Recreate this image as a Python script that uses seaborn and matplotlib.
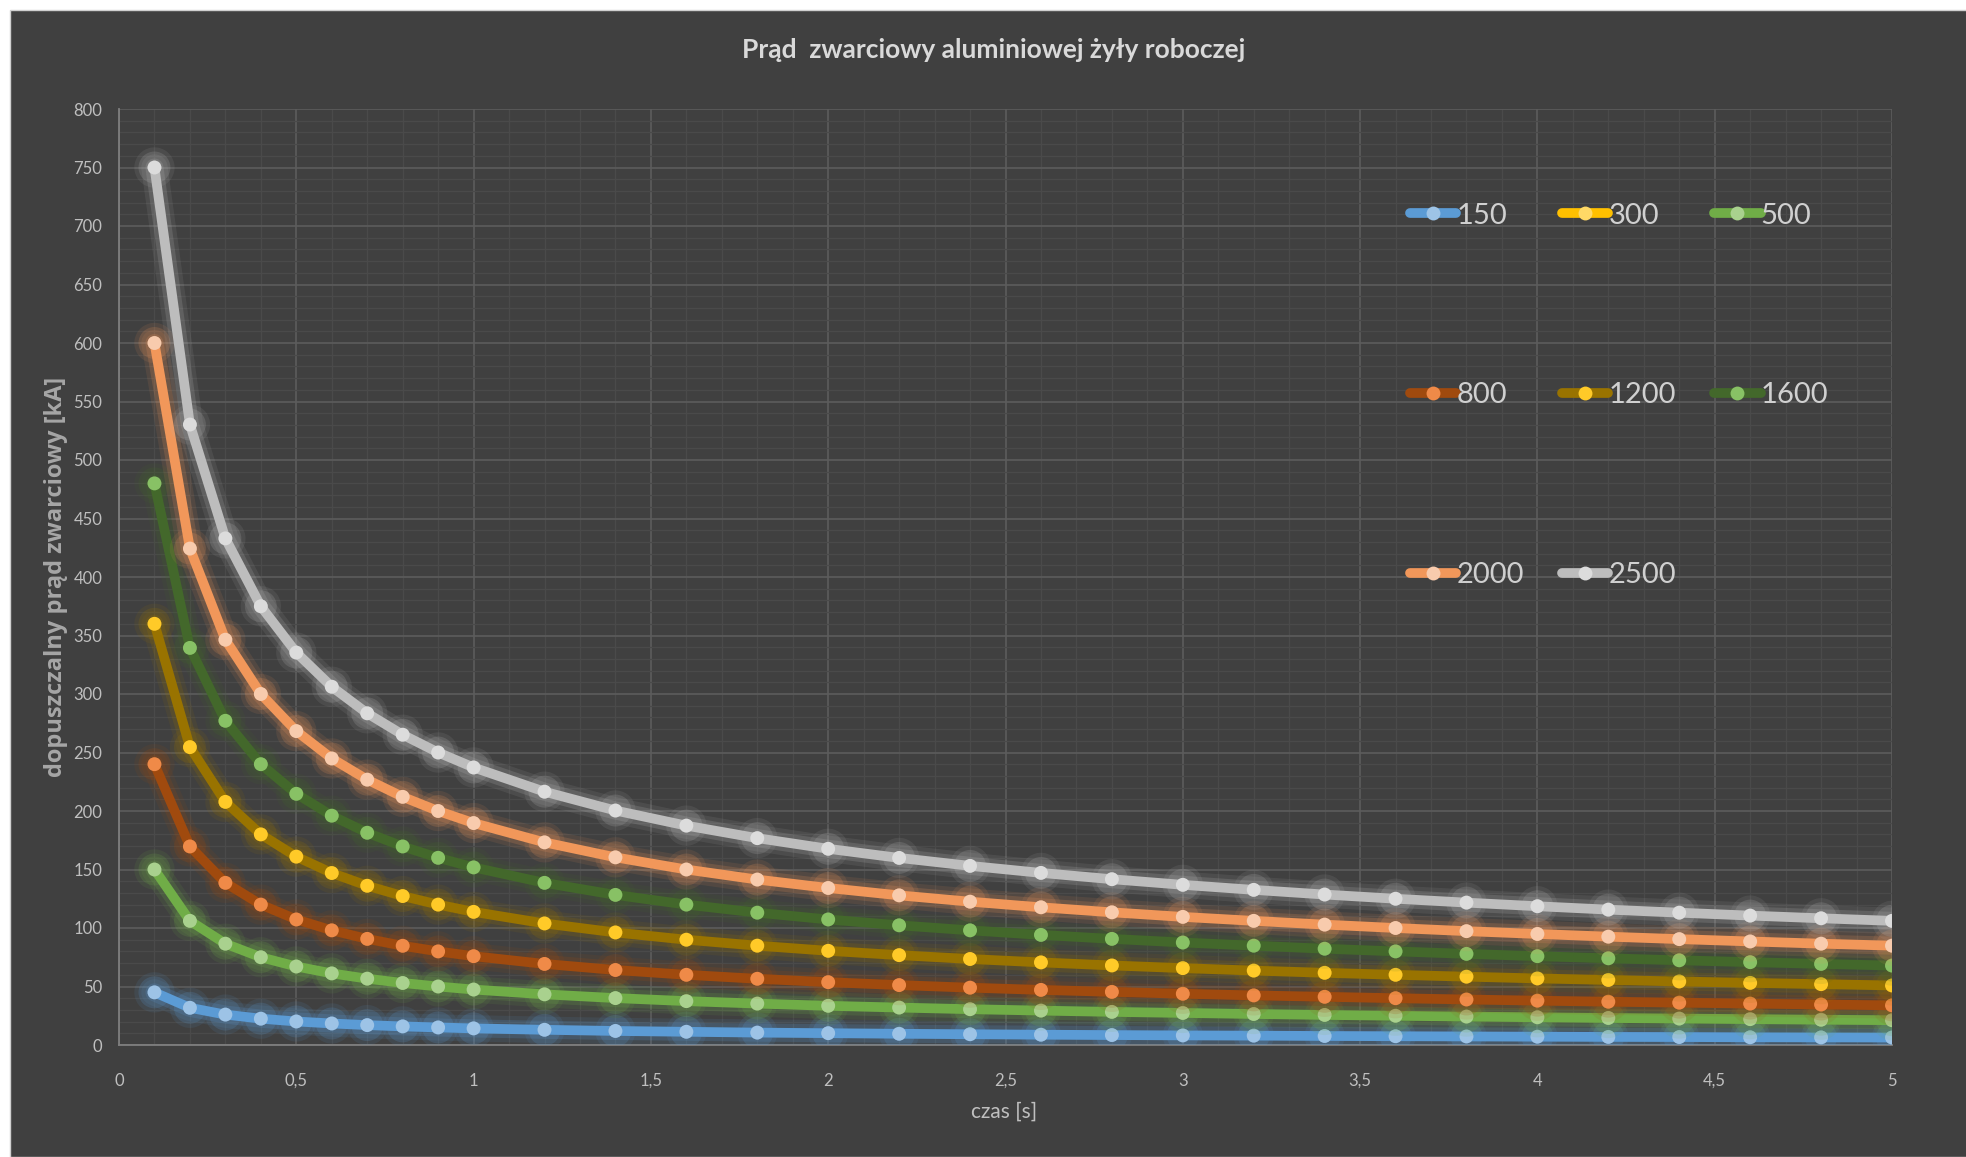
import matplotlib
matplotlib.use("Agg")
import matplotlib.pyplot as plt
import matplotlib.patheffects as pe
from matplotlib.patches import Rectangle
from matplotlib.ticker import MultipleLocator, FuncFormatter
import seaborn as sns
import pandas as pd

# time axis [s]
czas = [0.1, 0.2, 0.3, 0.4, 0.5, 0.6, 0.7, 0.8, 0.9, 1.0,
        1.2, 1.4, 1.6, 1.8, 2.0, 2.2, 2.4, 2.6, 2.8, 3.0,
        3.2, 3.4, 3.6, 3.8, 4.0, 4.2, 4.4, 4.6, 4.8, 5.0]

# permissible short-circuit current [kA] per conductor cross-section [mm2]
i_150 = [45.0, 31.8, 26.0, 22.5, 20.1, 18.4, 17.0, 15.9, 15.0, 14.2,
         13.0, 12.0, 11.3, 10.6, 10.1, 9.6, 9.2, 8.8, 8.5, 8.2,
         8.0, 7.7, 7.5, 7.3, 7.1, 6.9, 6.8, 6.6, 6.5, 6.4]
i_300 = []
i_500 = [150.0, 106.1, 86.6, 75.0, 67.1, 61.2, 56.7, 53.0, 50.0, 47.4,
         43.3, 40.1, 37.5, 35.4, 33.5, 32.0, 30.6, 29.4, 28.3, 27.4,
         26.5, 25.7, 25.0, 24.3, 23.7, 23.1, 22.6, 22.1, 21.6, 21.2]
i_800 = [240.0, 169.7, 138.6, 120.0, 107.3, 98.0, 90.7, 84.8, 80.0, 75.9,
         69.3, 64.1, 60.0, 56.6, 53.7, 51.2, 49.0, 47.1, 45.4, 43.8,
         42.4, 41.2, 40.0, 38.9, 37.9, 37.0, 36.2, 35.4, 34.6, 33.9]
i_1200 = [360.0, 254.6, 207.8, 180.0, 161.0, 147.0, 136.1, 127.3, 120.0, 113.8,
          103.9, 96.2, 90.0, 84.9, 80.5, 76.8, 73.5, 70.6, 68.0, 65.7,
          63.6, 61.7, 60.0, 58.4, 56.9, 55.6, 54.3, 53.1, 52.0, 50.9]
i_1600 = [480.0, 339.4, 277.1, 240.0, 214.7, 196.0, 181.4, 169.7, 160.0, 151.8,
          138.6, 128.3, 120.0, 113.1, 107.3, 102.3, 98.0, 94.1, 90.7, 87.6,
          84.9, 82.3, 80.0, 77.9, 75.9, 74.1, 72.4, 70.8, 69.3, 67.9]
i_2000 = [600.0, 424.3, 346.4, 300.0, 268.3, 244.9, 226.8, 212.1, 200.0, 189.7,
          173.2, 160.4, 150.0, 141.4, 134.2, 127.9, 122.5, 117.7, 113.4, 109.5,
          106.1, 102.9, 100.0, 97.3, 94.9, 92.6, 90.5, 88.5, 86.6, 84.9]
i_2500 = [750.0, 530.3, 433.0, 375.0, 335.4, 306.2, 283.5, 265.2, 250.0, 237.2,
          216.5, 200.4, 187.5, 176.8, 167.7, 159.9, 153.1, 147.1, 141.7, 136.9,
          132.6, 128.6, 125.0, 121.7, 118.6, 115.7, 113.1, 110.6, 108.3, 106.1]

przekroje = ["150", "300", "500", "800", "1200", "1600", "2000", "2500"]
serie = [i_150, i_300, i_500, i_800, i_1200, i_1600, i_2000, i_2500]
kolory_linii = ["#5B9BD5", "#FFC000", "#70AD47", "#A04A0E",
                "#997300", "#43682B", "#F1975A", "#BDBDBD"]
kolory_znacznikow = ["#9DC3E6", "#FFD966", "#A9D18E", "#EF8A48",
                     "#FFCA28", "#88C165", "#F8CBAD", "#DCDCDC"]

W, H = 1966, 1157
BG = "#404040"
TXT = "#BFBFBF"

sns.set_theme(style="dark")
plt.rcParams["font.family"] = ["Lato", "DejaVu Sans"]

fig = plt.figure(figsize=(W / 100, H / 100), dpi=100, facecolor="white")
fig.patches.append(Rectangle((10 / W, 0), 1, (H - 10) / H, transform=fig.transFigure,
                             facecolor=BG, edgecolor="#D0D0D0", linewidth=1.0, zorder=-10))

ax = fig.add_axes([119 / W, 1 - 1045 / H, (1892 - 119) / W, (1045 - 109) / H])
ax.set_facecolor(BG)

lw = 7.0
handles = {}
for k, (nazwa, wart, kl, kz) in enumerate(zip(przekroje, serie, kolory_linii, kolory_znacznikow)):
    glow = [pe.Stroke(linewidth=lw + 12, foreground=kl, alpha=0.10),
            pe.Stroke(linewidth=lw + 6, foreground=kl, alpha=0.18),
            pe.Normal()]
    if len(wart):
        df = pd.DataFrame({"czas": czas[:len(wart)], "prad": wart})
        sns.lineplot(data=df, x="czas", y="prad", ax=ax, color=kl, linewidth=lw,
                     marker="o", markersize=10, markerfacecolor=kz,
                     markeredgewidth=0, zorder=3 + k, legend=False)
        ln = ax.lines[-1]
        ln.set_path_effects(glow)
        ln.set_solid_capstyle("round")
    h, = ax.plot([], [], color=kl, linewidth=lw, marker="o", markersize=10,
                 markerfacecolor=kz, markeredgewidth=0, solid_capstyle="round")
    handles[nazwa] = h

ax.set_xlim(0, 5)
ax.set_ylim(0, 800)
ax.xaxis.set_major_locator(MultipleLocator(0.5))
ax.xaxis.set_minor_locator(MultipleLocator(0.1))
ax.yaxis.set_major_locator(MultipleLocator(50))
ax.yaxis.set_minor_locator(MultipleLocator(10))
fmt = FuncFormatter(lambda v, p: ("%g" % v).replace(".", ","))
ax.xaxis.set_major_formatter(fmt)
ax.yaxis.set_major_formatter(fmt)

ax.grid(which="major", color="#5C5C5C", linewidth=1.2, zorder=0)
ax.grid(which="minor", color="#4A4A4A", linewidth=0.9, zorder=0)
ax.set_axisbelow(True)
ax.tick_params(which="both", length=0, colors=TXT, labelsize=12)
ax.tick_params(axis="x", pad=20)
ax.tick_params(axis="y", pad=12)
for s in ["top", "right"]:
    ax.spines[s].set_visible(False)
for s in ["left", "bottom"]:
    ax.spines[s].set_visible(True)
    ax.spines[s].set_color("#7F7F7F")
    ax.spines[s].set_linewidth(1.3)

ax.set_xlabel("czas [s]", color=TXT, fontsize=15, va="center")
ax.xaxis.set_label_coords(0.499, (1045 - 1112) / 936)
ax.set_ylabel("dopuszczalny prąd zwarciowy [kA]", color="#A6A6A6", fontsize=17,
              fontweight="bold", va="center", family=["Open Sans", "DejaVu Sans"])
ax.yaxis.set_label_coords((56 - 119) / 1773, 0.5)

fig.text(994 / W, 1 - 50 / H, "Prąd  zwarciowy aluminiowej żyły roboczej",
         ha="center", va="center", color="#D9D9D9", fontsize=19, fontweight="bold")

# three columns filled column-wise -> rows read 150/300/500, 800/1200/1600, 2000/2500
kolejnosc = ["150", "800", "2000", "300", "1200", "2500", "500", "1600"]
leg = ax.legend([handles[n] for n in kolejnosc], kolejnosc, ncol=3, frameon=False,
                loc="upper left", bbox_to_anchor=(0.728, 0.9), fontsize=21,
                handlelength=1.6, handletextpad=0.0, labelspacing=5.27,
                columnspacing=1.3, borderpad=0, borderaxespad=0)
for t in leg.get_texts():
    t.set_color("#D0D0D0")

fig.savefig("out.png", dpi=100, facecolor=fig.get_facecolor())
